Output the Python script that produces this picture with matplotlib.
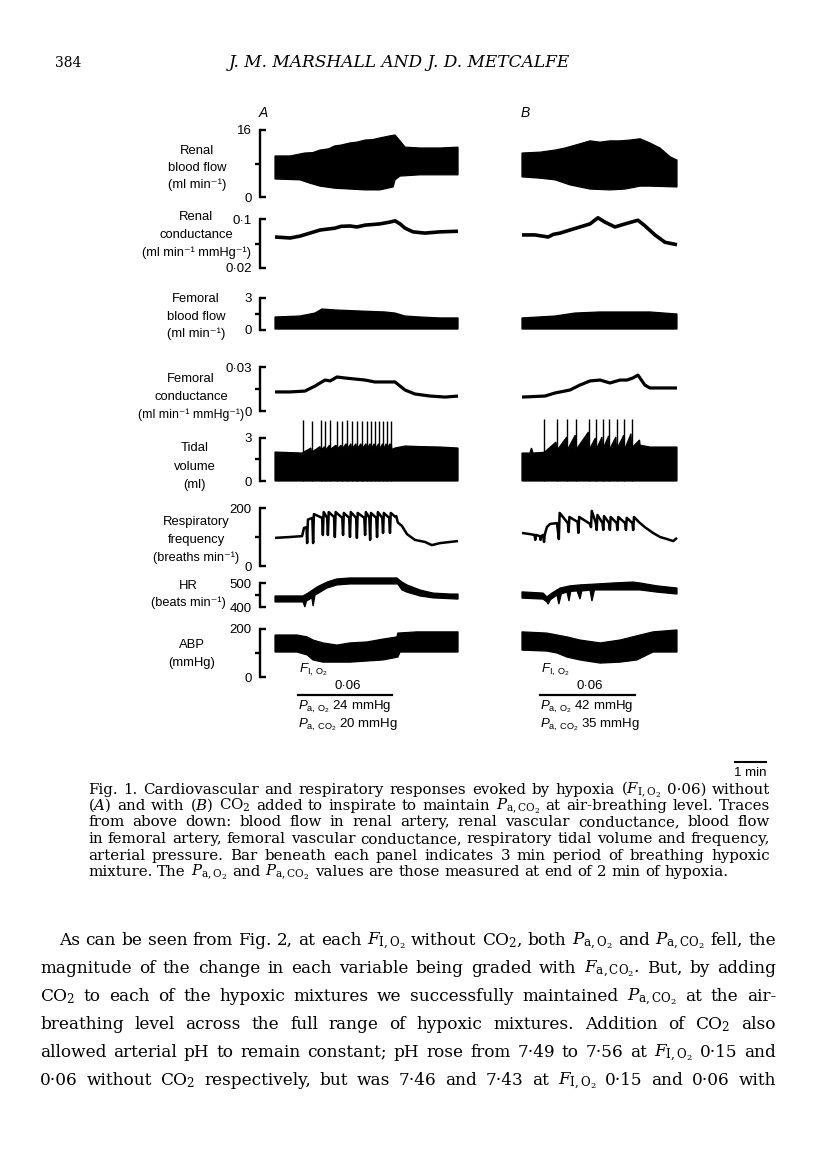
import matplotlib
matplotlib.use('Agg')
import numpy as np
import matplotlib.pyplot as plt
from matplotlib.transforms import blended_transform_factory

plt.rcParams['font.family'] = ['Liberation Sans', 'DejaVu Sans']
plt.rcParams['mathtext.fontset'] = 'custom'
plt.rcParams['mathtext.rm'] = 'Liberation Sans'
plt.rcParams['mathtext.it'] = 'Liberation Sans:italic'
plt.rcParams['mathtext.bf'] = 'Liberation Sans:bold'

# ---------------- row definitions ----------------
row_labels = [
    ['Renal', 'blood flow', '(ml min⁻¹)'],
    ['Renal', 'conductance', '(ml min⁻¹ mmHg⁻¹)'],
    ['Femoral', 'blood flow', '(ml min⁻¹)'],
    ['Femoral', 'conductance', '(ml min⁻¹ mmHg⁻¹)'],
    ['Tidal', 'volume', '(ml)'],
    ['Respiratory', 'frequency', '(breaths min⁻¹)'],
    ['HR', '(beats min⁻¹)'],
    ['ABP', '(mmHg)'],
]
scale_lo = [0, 0.02, 0, 0, 0, 0, 400, 0]
scale_hi = [16, 0.1, 3, 0.03, 3, 200, 500, 200]
tick_lo = ['0', '0·02', '0', '0', '0', '0', '400', '0']
tick_hi = ['16', '0·1', '3', '0·03', '3', '200', '500', '200']

# hypoxia periods (min from start of record) and blood gases
hypoxia_A = (0.73, 3.71)
hypoxia_B = (0.57, 3.59)
fio2 = '0·06'
pao2 = ['24', '42']
paco2 = ['20', '35']

# ---------------- traces (time in min, values in row units) ----------------
# renal blood flow (band: upper / lower envelope)
rbf_A_tu = [0, 0.48, 0.95, 1.2, 1.43, 1.7, 1.90, 2.1, 2.38, 2.6, 2.86, 3.1, 3.33, 3.65, 3.81, 3.97, 4.13, 4.60, 5.24, 5.81]
rbf_A_vu = [9.8, 9.8, 10.5, 10.6, 11.2, 11.5, 12.2, 12.4, 12.9, 13.1, 13.6, 13.7, 14.1, 14.6, 14.8, 13.4, 11.9, 11.7, 11.7, 11.9]
rbf_A_tl = [0, 0.79, 1.11, 1.43, 1.90, 2.38, 2.86, 3.33, 3.75, 3.81, 3.97, 4.60, 5.81]
rbf_A_vl = [4.3, 4.1, 3.3, 2.6, 2.1, 1.9, 1.7, 1.7, 2.4, 4.1, 5.0, 5.3, 5.3]
rbf_B_tu = [0, 0.57, 1.05, 1.37, 1.84, 2.16, 2.48, 2.79, 3.11, 3.43, 3.75, 4.06, 4.38, 4.70, 4.92]
rbf_B_vu = [10.5, 10.7, 11.2, 11.7, 12.7, 13.4, 13.1, 13.4, 13.4, 13.6, 13.9, 12.9, 11.7, 9.6, 8.8]
rbf_B_tl = [0, 0.57, 1.05, 1.52, 2.16, 2.79, 3.27, 3.75, 4.06, 4.92]
rbf_B_vl = [4.8, 4.5, 4.1, 2.9, 1.9, 1.7, 1.9, 2.6, 2.6, 2.4]

# renal conductance
rvc_A_t = [0, 0.48, 0.79, 1.11, 1.43, 1.90, 2.1, 2.38, 2.6, 2.86, 3.1, 3.33, 3.65, 3.81, 3.97, 4.13, 4.38, 4.76, 5.24, 5.81]
rvc_A_v = [0.0706, 0.069, 0.072, 0.077, 0.082, 0.085, 0.088, 0.0886, 0.087, 0.090, 0.091, 0.092, 0.095, 0.097, 0.092, 0.085, 0.079, 0.077, 0.079, 0.080]
rvc_B_t = [0, 0.41, 0.83, 1.0, 1.21, 1.52, 1.84, 2.16, 2.41, 2.63, 2.95, 3.27, 3.68, 3.90, 4.22, 4.54, 4.92]
rvc_B_v = [0.074, 0.074, 0.0706, 0.075, 0.077, 0.082, 0.087, 0.092, 0.102, 0.095, 0.087, 0.092, 0.098, 0.089, 0.074, 0.062, 0.058]

# femoral blood flow (band)
fbf_A_tu = [0, 0.79, 1.27, 1.49, 1.90, 2.70, 3.49, 3.81, 4.13, 4.60, 5.24, 5.81]
fbf_A_vu = [1.22, 1.31, 1.59, 1.97, 1.88, 1.78, 1.69, 1.59, 1.31, 1.22, 1.13, 1.13]
fbf_A_tl = [0, 5.81]
fbf_A_vl = [0.09, 0.09]
fbf_B_tu = [0, 1.05, 1.68, 2.48, 3.43, 4.06, 4.92]
fbf_B_vu = [1.13, 1.31, 1.59, 1.69, 1.69, 1.69, 1.5]
fbf_B_tl = [0, 4.92]
fbf_B_vl = [0.09, 0.09]

# femoral conductance
fvc_A_t = [0, 0.48, 0.95, 1.27, 1.43, 1.59, 1.75, 1.97, 2.22, 2.54, 2.86, 3.17, 3.49, 3.81, 3.97, 4.13, 4.44, 4.92, 5.40, 5.81]
fvc_A_v = [0.0130, 0.0130, 0.0136, 0.0170, 0.0191, 0.0211, 0.0205, 0.0232, 0.0225, 0.0218, 0.0211, 0.0198, 0.0198, 0.0198, 0.0170, 0.0143, 0.0116, 0.0102, 0.0095, 0.0102]
fvc_B_t = [0, 0.73, 1.05, 1.52, 1.84, 2.16, 2.48, 2.79, 3.11, 3.33, 3.52, 3.68, 3.90, 4.06, 4.38, 4.92]
fvc_B_v = [0.0095, 0.0102, 0.0123, 0.0143, 0.0177, 0.0205, 0.0211, 0.0191, 0.0211, 0.0211, 0.0225, 0.0245, 0.0177, 0.0157, 0.0157, 0.0157]

# tidal volume: sighs (spikes) and top of the breath band
tv_A_spikes = [0.90, 1.16, 1.45, 1.59, 1.75, 1.96, 2.12, 2.28, 2.43, 2.59, 2.75, 2.91, 3.04, 3.17, 3.31, 3.44, 3.55, 3.67]
tv_A_spike_top = [4.26, 4.2, 4.26, 4.2, 4.26, 4.2, 4.2, 4.26, 4.2, 4.2, 4.2, 4.2, 4.2, 4.2, 4.2, 4.2, 4.2, 4.2]
tv_A_lo = [2.0, 2.0, 2.1, 2.1, 2.2, 2.2, 2.2, 2.2, 2.2, 2.2, 2.2, 2.2, 2.2, 2.2, 2.2, 2.2, 2.2, 2.2]
tv_A_hi = [2.3, 2.4, 2.4, 2.5, 2.5, 2.5, 2.6, 2.6, 2.6, 2.6, 2.6, 2.6, 2.6, 2.6, 2.6, 2.6, 2.6, 2.6]
tv_A_pre_t, tv_A_pre_v = [0, 0.86], [2.02, 1.95]
tv_A_post_t = [3.71, 3.81, 4.13, 4.60, 5.24, 5.81]
tv_A_post_v = [2.2, 2.3, 2.44, 2.4, 2.37, 2.30]
tv_B_spikes = [0.71, 1.10, 1.44, 1.71, 2.13, 2.35, 2.56, 2.77, 3.00, 3.25, 3.48]
tv_B_spike_top = [4.33, 4.33, 4.33, 4.33, 4.33, 4.33, 4.33, 4.33, 4.33, 4.33, 4.33]
tv_B_lo = [2.0, 2.1, 2.16, 2.16, 2.16, 2.16, 2.16, 2.16, 2.16, 2.16, 2.3]
tv_B_hi = [2.72, 3.07, 3.2, 3.42, 3.0, 3.07, 3.15, 3.07, 3.2, 3.3, 2.86]
tv_B_pre_t = [0, 0.25, 0.30, 0.35, 0.69]
tv_B_pre_v = [1.95, 1.95, 2.3, 1.95, 2.0]
tv_B_post_t = [3.75, 4.06, 4.92]
tv_B_post_v = [2.5, 2.37, 2.37]

# respiratory frequency: each breath-burst = trough, peak, sag
rf_A_pre_t = [0, 0.48, 0.86, 0.92, 1.00]
rf_A_pre_v = [97, 100, 103, 131, 134]
rf_A_cyc = [1.02, 1.21, 1.52, 1.68, 1.90, 2.16, 2.38, 2.60, 2.86, 3.02, 3.24, 3.43, 3.65]
rf_A_trough = [79, 79, 107, 107, 100, 107, 100, 97, 107, 90, 100, 114, 114]
rf_A_peak = [160, 179, 186, 186, 186, 183, 186, 183, 186, 183, 186, 183, 183]
rf_A_sag = [166, 166, 166, 169, 166, 166, 166, 166, 166, 166, 166, 166, 169]
rf_A_post_t = [3.85, 3.90, 4.03, 4.19, 4.44, 4.76, 4.98, 5.24, 5.81]
rf_A_post_v = [172, 150, 138, 110, 90, 83, 72, 79, 86]
rf_B_pre_t = [0, 0.25, 0.40, 0.42, 0.44, 0.57, 0.59, 0.61, 0.67, 0.70, 0.72, 0.79, 0.89, 1.11]
rf_B_pre_v = [114, 110, 107, 90, 107, 103, 90, 103, 107, 83, 107, 134, 145, 148]
rf_B_cyc = [1.17, 1.48, 1.79, 2.19, 2.37, 2.58, 2.79, 3.03, 3.30, 3.53]
rf_B_trough = [93, 117, 114, 134, 124, 124, 124, 124, 124, 124]
rf_B_peak = [183, 169, 169, 190, 176, 172, 169, 169, 166, 169]
rf_B_sag = [148, 152, 145, 148, 148, 148, 148, 148, 148, 150]
rf_B_post_t = [3.75, 3.90, 4.16, 4.38, 4.60, 4.80, 4.92]
rf_B_post_v = [148, 134, 114, 100, 93, 86, 97]

# heart rate (band)
hr_A_tu = [0, 0.89, 1.05, 1.33, 1.65, 1.97, 2.38, 3.43, 3.87, 4.03, 4.19, 4.60, 5.02, 5.56, 5.81]
hr_A_vu = [446, 446, 458, 483, 504, 517, 521, 521, 521, 504, 492, 471, 458, 454, 454]
hr_A_tl = [0, 0.89, 0.95, 1.00, 1.17, 1.21, 1.27, 1.33, 1.65, 1.97, 2.38, 3.43, 3.90, 4.03, 4.19, 4.60, 5.02, 5.81]
hr_A_vl = [421, 421, 400, 425, 438, 404, 450, 454, 479, 492, 496, 496, 496, 471, 462, 446, 438, 433]
hr_B_tu = [0, 0.67, 0.79, 0.95, 1.21, 1.52, 1.84, 2.38, 2.89, 3.52, 3.75, 4.29, 4.92]
hr_B_vu = [463, 458, 442, 458, 479, 488, 492, 496, 500, 504, 500, 488, 479]
hr_B_tl = [0, 0.67, 0.79, 0.83, 0.90, 1.11, 1.17, 1.25, 1.43, 1.49, 1.55, 1.75, 1.84, 1.90, 2.16, 2.22, 2.30, 2.89, 3.75, 4.29, 4.92]
hr_B_vl = [437, 433, 421, 412, 430, 450, 412, 455, 462, 425, 465, 467, 433, 467, 470, 425, 471, 471, 471, 462, 454]

# arterial blood pressure (band)
abp_A_tu = [0, 0.70, 1.02, 1.21, 1.52, 1.97, 2.38, 2.92, 3.43, 3.87, 3.90, 4.51, 5.81]
abp_A_vu = [175, 175, 167, 154, 142, 133, 142, 146, 158, 167, 183, 188, 188]
abp_A_tl = [0, 0.70, 1.02, 1.21, 1.52, 2.38, 3.43, 3.90, 3.97, 5.81]
abp_A_vl = [104, 104, 92, 71, 62, 62, 71, 83, 104, 104]
abp_B_tu = [0, 0.79, 1.43, 1.84, 2.48, 3.11, 3.75, 4.16, 4.92]
abp_B_vu = [188, 183, 167, 154, 142, 154, 175, 188, 196]
abp_B_tl = [0, 0.79, 1.11, 1.43, 1.84, 2.48, 3.11, 3.65, 3.97, 4.16, 4.92]
abp_B_vl = [112, 108, 100, 83, 71, 58, 62, 71, 92, 104, 104]

caption = [
    r"Fig. 1. Cardiovascular and respiratory responses evoked by hypoxia ($F_{\mathrm{I,O_2}}$ 0·06) without",
    r"($A$) and with ($B$) CO$_2$ added to inspirate to maintain $P_{\mathrm{a,CO_2}}$ at air-breathing level. Traces",
    "from above down: blood flow in renal artery, renal vascular conductance, blood flow",
    "in femoral artery, femoral vascular conductance, respiratory tidal volume and frequency,",
    "arterial pressure. Bar beneath each panel indicates 3 min period of breathing hypoxic",
    r"mixture. The $P_{\mathrm{a,O_2}}$ and $P_{\mathrm{a,CO_2}}$ values are those measured at end of 2 min of hypoxia.",
]
body = [
    r"As can be seen from Fig. 2, at each $F_{\mathrm{I,O_2}}$ without CO$_2$, both $P_{\mathrm{a,O_2}}$ and $P_{\mathrm{a,CO_2}}$ fell, the",
    r"magnitude of the change in each variable being graded with $F_{\mathrm{a,CO_2}}$. But, by adding",
    r"CO$_2$ to each of the hypoxic mixtures we successfully maintained $P_{\mathrm{a,CO_2}}$ at the air-",
    r"breathing level across the full range of hypoxic mixtures. Addition of CO$_2$ also",
    r"allowed arterial pH to remain constant; pH rose from 7·49 to 7·56 at $F_{\mathrm{I,O_2}}$ 0·15 and",
    r"0·06 without CO$_2$ respectively, but was 7·46 and 7·43 at $F_{\mathrm{I,O_2}}$ 0·15 and 0·06 with",
]

# ---------------- layout (pixels on the page) ----------------
W, H = 816, 1169
PPM = 31.5                 # pixels per minute
T0_A, T0_B = 275, 522      # start of each record
row_top = [130, 219, 298, 367, 438, 508, 583, 629]
row_bot = [197, 268, 330, 411, 481, 566, 607, 677]
label_y = [[151, 168, 185], [217, 235, 253], [299, 317, 334], [379, 397, 415],
           [448, 467, 485], [522, 540, 558], [586, 603], [645, 663]]
label_x = [197, 196, 196, 191, 195, 196, 188, 192]
label_size = [9.4, 9.2, 9.4, 8.8, 9.4, 9.2, 9.2, 9.4]

fig = plt.figure(figsize=(W / 100, H / 100), dpi=100)
rend = fig.canvas.get_renderer()


def fx(x):
    return x / W


def fy(y):
    return 1 - y / H


def px_axes(x0, x1, y0, y1):
    return fig.add_axes([fx(x0), fy(y1), (x1 - x0) / W, (y1 - y0) / H])


def band(ax, tu, vu, tl, vl):
    ax.fill(np.r_[tu, tl[::-1]], np.r_[vu, vl[::-1]], color='black',
            lw=0.9, clip_on=False)


def trace(ax, t, v, lw=2.2):
    ax.plot(t, v, color='black', lw=lw, clip_on=False,
            solid_joinstyle='round', solid_capstyle='butt')


def bursts(pre_t, pre_v, cyc, trough, peak, sag, post_t, post_v, eps=0.025):
    t, v = list(pre_t), list(pre_v)
    for k, tk in enumerate(cyc):
        nxt = cyc[k + 1] if k + 1 < len(cyc) else post_t[0]
        t += [tk, tk + eps, nxt - eps]
        v += [trough[k], peak[k], sag[k]]
    return t + list(post_t), v + list(post_v)


def ramps(pre_t, pre_v, spikes, lo, hi, post_t, post_v, eps=0.02):
    t, v = list(pre_t), list(pre_v)
    for k, tk in enumerate(spikes):
        nxt = spikes[k + 1] if k + 1 < len(spikes) else post_t[0]
        t += [tk, nxt - eps]
        v += [lo[k], hi[k]]
    return t + list(post_t), v + list(post_v)


axA, axB = [], []
for i in range(8):
    a = px_axes(260, 464, row_top[i], row_bot[i])
    a.set_xlim((260 - T0_A) / PPM, (464 - T0_A) / PPM)
    b = px_axes(522, 682, row_top[i], row_bot[i])
    b.set_xlim(0, (682 - T0_B) / PPM)
    for ax in (a, b):
        ax.set_ylim(scale_lo[i], scale_hi[i])
        ax.patch.set_alpha(0)
        for s in ax.spines.values():
            s.set_visible(False)
        ax.set_xticks([])
    b.set_yticks([])
    a.spines['left'].set_visible(True)
    a.spines['left'].set_linewidth(1.7)
    a.set_yticks([scale_lo[i], scale_hi[i]], [tick_lo[i], tick_hi[i]])
    a.set_yticks([(scale_lo[i] + scale_hi[i]) / 2], minor=True)
    a.tick_params(axis='y', which='major', direction='in', length=4.5, width=1.7,
                  pad=6, labelsize=9.5)
    a.tick_params(axis='y', which='minor', direction='out', length=3.5, width=1.7)
    for j, (txt, yy) in enumerate(zip(row_labels[i], label_y[i])):
        size = label_size[i] if j == len(row_labels[i]) - 1 else 9.4
        fig.text(fx(label_x[i]), fy(yy), txt, ha='center', va='center', fontsize=size)
    axA.append(a)
    axB.append(b)

# row 1-4
band(axA[0], rbf_A_tu, rbf_A_vu, rbf_A_tl, rbf_A_vl)
band(axB[0], rbf_B_tu, rbf_B_vu, rbf_B_tl, rbf_B_vl)
trace(axA[1], rvc_A_t, rvc_A_v, 2.6)
trace(axB[1], rvc_B_t, rvc_B_v, 2.6)
band(axA[2], fbf_A_tu, fbf_A_vu, fbf_A_tl, fbf_A_vl)
band(axB[2], fbf_B_tu, fbf_B_vu, fbf_B_tl, fbf_B_vl)
trace(axA[3], fvc_A_t, fvc_A_v, 2.3)
trace(axB[3], fvc_B_t, fvc_B_v, 2.3)

# tidal volume
for ax, pre_t, pre_v, sp, top, lo, hi, post_t, post_v in [
        (axA[4], tv_A_pre_t, tv_A_pre_v, tv_A_spikes, tv_A_spike_top, tv_A_lo, tv_A_hi, tv_A_post_t, tv_A_post_v),
        (axB[4], tv_B_pre_t, tv_B_pre_v, tv_B_spikes, tv_B_spike_top, tv_B_lo, tv_B_hi, tv_B_post_t, tv_B_post_v)]:
    tt, vv = ramps(pre_t, pre_v, sp, lo, hi, post_t, post_v)
    band(ax, tt, vv, [tt[0], tt[-1]], [0, 0])
    ax.vlines(sp, 0, top, color='black', lw=1.0, clip_on=False)

# respiratory frequency
tt, vv = bursts(rf_A_pre_t, rf_A_pre_v, rf_A_cyc, rf_A_trough, rf_A_peak, rf_A_sag, rf_A_post_t, rf_A_post_v)
trace(axA[5], tt, vv, 1.8)
tt, vv = bursts(rf_B_pre_t, rf_B_pre_v, rf_B_cyc, rf_B_trough, rf_B_peak, rf_B_sag, rf_B_post_t, rf_B_post_v)
trace(axB[5], tt, vv, 1.8)

band(axA[6], hr_A_tu, hr_A_vu, hr_A_tl, hr_A_vl)
band(axB[6], hr_B_tu, hr_B_vu, hr_B_tl, hr_B_vl)
band(axA[7], abp_A_tu, abp_A_vu, abp_A_tl, abp_A_vl)
band(axB[7], abp_B_tu, abp_B_vu, abp_B_tl, abp_B_vl)

# panel letters
fig.text(fx(263), fy(113), 'A', ha='center', va='center', fontsize=10, style='italic')
fig.text(fx(525), fy(113), 'B', ha='center', va='center', fontsize=10, style='italic')

# hypoxia bars and blood gases
for ax, (t_on, t_off), po2, pco2 in [(axA[7], hypoxia_A, pao2[0], paco2[0]),
                                      (axB[7], hypoxia_B, pao2[1], paco2[1])]:
    tr = blended_transform_factory(ax.transData, fig.transFigure)
    ax.plot([t_on, t_off], [fy(695), fy(695)], color='black', lw=1.6,
            transform=tr, clip_on=False)
    ax.text(t_on + 0.02, fy(670), r'$F_{\mathrm{I,\,O_2}}$', transform=tr,
            ha='left', va='center', fontsize=9.5)
    ax.text((t_on + t_off) / 2 + 0.08, fy(686), fio2, transform=tr,
            ha='center', va='center', fontsize=9.5)
    ax.text(t_on, fy(707), r'$P_{\mathrm{a,\,O_2}}$ ' + po2 + ' mmHg', transform=tr,
            ha='left', va='center', fontsize=9.5)
    ax.text(t_on, fy(725), r'$P_{\mathrm{a,\,CO_2}}$ ' + pco2 + ' mmHg', transform=tr,
            ha='left', va='center', fontsize=9.5)

# 1 min scale bar
tr = blended_transform_factory(axB[7].transData, fig.transFigure)
bar_start = (735 - T0_B) / PPM
axB[7].plot([bar_start, bar_start + 1], [fy(762), fy(762)], color='black', lw=1.5,
            transform=tr, clip_on=False)
axB[7].text(bar_start + 0.5, fy(773), '1 min', transform=tr, ha='center',
            va='center', fontsize=9.5)


# ---------------- page text ----------------
def serif_words(line, y, size):
    return [fig.text(0, fy(y), w, fontsize=size, family='DejaVu Serif',
                     math_fontfamily='dejavuserif', va='baseline')
            for w in line.split(' ')]


def justify_block(lines, bases, x_left, x_right, base_size, indent=0, last_free=True):
    # size the block so that its tightest line fits with ordinary word spacing
    scale = 10.0
    for k, line in enumerate(lines):
        if last_free and k == len(lines) - 1:
            continue
        objs = serif_words(line, bases[k], base_size)
        ws = sum(o.get_window_extent(rend).width for o in objs)
        sp = base_size * 100 / 72 * 0.32 * (len(objs) - 1)
        x0 = x_left + (indent if k == 0 else 0)
        scale = min(scale, (x_right - x0) / (ws + sp))
        for o in objs:
            o.remove()
    size = base_size * scale
    for k, line in enumerate(lines):
        objs = serif_words(line, bases[k], size)
        widths = [o.get_window_extent(rend).width for o in objs]
        x0 = x_left + (indent if k == 0 else 0)
        if last_free and k == len(lines) - 1:
            gap = size * 100 / 72 * 0.32
        else:
            gap = (x_right - x0 - sum(widths)) / (len(objs) - 1)
        x = x0
        for o, w in zip(objs, widths):
            o.set_x(fx(x))
            x += w + gap


fig.text(fx(55), fy(67), '384', family='DejaVu Serif', fontsize=10, va='baseline')
ttl = fig.text(fx(229), fy(67), 'J. M. MARSHALL AND J. D. METCALFE', family='DejaVu Serif',
               style='italic', fontsize=10, va='baseline')
ttl.set_fontsize(10 * (572 - 229) / ttl.get_window_extent(rend).width)

cap_base = [794, 810, 826, 843, 860, 876]
justify_block(caption, cap_base, 88, 770, 10, last_free=True)

body_base = [945, 973, 1001, 1029, 1057, 1085]
justify_block(body, body_base, 40, 776, 11, indent=19, last_free=False)

fig.savefig('out.png', dpi=100)
